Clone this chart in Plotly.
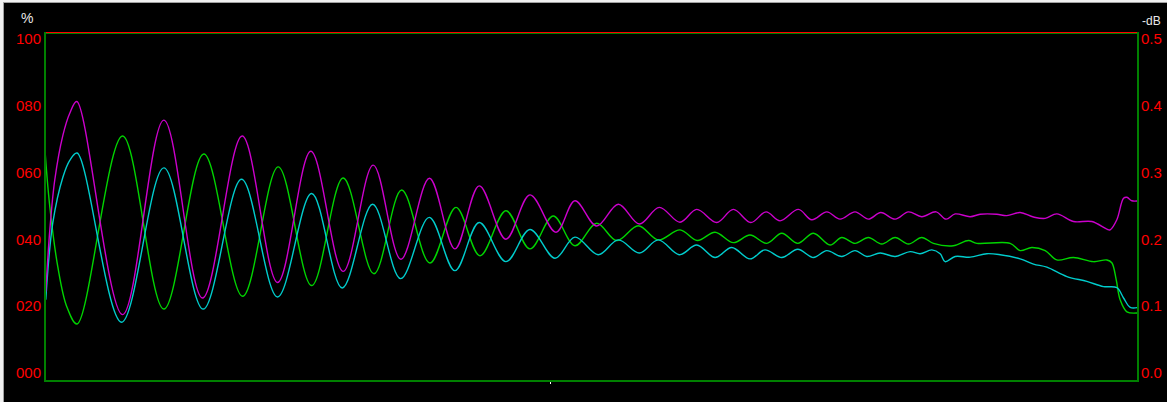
import plotly.graph_objects as go

# Sweep position (0-100 % of span) and the three measured traces (in %)
magenta_x = [0.18, 0.55, 1.0, 1.74, 2.37, 3.01, 7.19, 10.96, 14.49, 18.11, 21.34, 24.38, 27.33, 30.07,
             32.6, 35.21, 37.53, 39.75, 42.19, 44.38, 46.76, 48.49, 50.47, 52.45, 54.37, 56.19, 58.08,
             59.61, 61.43, 62.95, 64.54, 65.94, 67.21, 68.89, 70.11, 71.48, 72.69, 74.06, 75.28, 76.41,
             77.72, 78.93, 80.15, 81.46, 82.37, 83.2, 84.57, 85.48, 87.0, 87.92, 89.13, 90.35, 91.42,
             92.48, 94.0, 95.68, 97.05, 97.35, 97.96, 98.57, 98.88, 99.33, 99.94]
magenta_y = [25.5, 43.4, 57.8, 70.7, 77.1, 80.5, 18.9, 75.1, 23.7, 70.5, 28.2, 66.1, 31.4, 62.1,
             34.9, 58.3, 37.9, 56.1, 40.7, 53.5, 42.7, 51.8, 44.5, 50.8, 45.1, 49.9, 45.6,
             49.3, 45.5, 49.3, 45.5, 48.6, 46.0, 49.3, 46.3, 48.6, 46.5, 48.6, 46.5, 48.4,
             46.5, 48.6, 47.2, 48.6, 46.5, 48.0, 47.2, 47.9, 47.9, 47.5, 48.4, 47.1, 46.7,
             48.0, 45.8, 45.8, 43.6, 43.4, 46.3, 52.5, 52.8, 51.8, 51.8]

green_x = [0.14, 0.55, 1.28, 2.1, 3.04, 7.19, 10.96, 14.61, 18.15, 21.4, 24.45, 27.33, 30.14, 32.67,
           35.25, 37.63, 39.82, 42.19, 44.38, 46.51, 48.49, 50.47, 52.3, 54.27, 56.1, 58.08, 59.66,
           61.28, 62.95, 64.47, 66.0, 67.37, 68.83, 70.26, 71.78, 72.85, 74.06, 75.28, 76.5, 77.72,
           78.93, 80.15, 81.21, 83.04, 84.41, 85.18, 88.22, 89.13, 90.2, 91.42, 92.48, 94.0, 95.83,
           97.05, 97.5, 97.9, 98.26, 98.88, 99.94]
green_y = [65.0, 50.0, 32.7, 21.2, 16.2, 70.5, 20.5, 65.3, 24.2, 61.6, 27.3, 58.4, 30.7, 54.9,
           33.8, 49.9, 35.9, 48.9, 37.9, 47.4, 38.8, 45.3, 40.3, 44.6, 40.5, 43.4, 40.3,
           42.7, 39.7, 41.9, 39.5, 42.4, 39.5, 42.4, 39.0, 41.2, 39.5, 41.2, 39.3, 41.2,
           39.3, 41.2, 39.5, 38.8, 40.3, 39.5, 39.5, 37.4, 38.3, 37.4, 34.7, 35.4, 34.2,
           34.7, 33.9, 29.0, 23.2, 19.7, 19.4]

cyan_x = [0.18, 0.82, 1.74, 2.37, 3.04, 7.1, 10.96, 14.55, 18.05, 21.34, 24.45, 27.24, 30.02, 32.58,
          35.19, 37.53, 39.75, 42.19, 44.38, 46.67, 48.49, 50.62, 52.45, 54.37, 56.1, 58.02, 59.61,
          61.28, 62.8, 64.47, 65.84, 67.37, 68.83, 70.26, 71.48, 72.85, 74.06, 75.13, 76.35, 77.72,
          79.09, 80.0, 81.07, 81.83, 82.28, 83.2, 84.57, 86.09, 87.31, 89.13, 90.35, 91.57, 93.4,
          95.22, 96.74, 97.96, 98.57, 99.18, 99.94]
cyan_y = [23.2, 45.4, 58.6, 63.5, 65.6, 16.7, 61.3, 20.5, 58.0, 24.0, 53.9, 26.6, 50.8, 29.3,
          47.0, 31.6, 45.5, 34.2, 43.5, 35.2, 41.3, 36.2, 40.5, 36.7, 40.5, 36.2, 39.0,
          35.4, 38.3, 35.0, 37.6, 35.4, 37.8, 35.4, 37.4, 35.7, 37.4, 35.7, 36.7, 35.7,
          37.1, 36.5, 37.6, 36.5, 34.2, 35.7, 35.5, 36.5, 36.2, 35.0, 33.5, 32.6, 29.9,
          28.5, 27.0, 26.7, 23.7, 21.0, 21.0]

# Axis tick labels
pct_ticks = [0, 20, 40, 60, 80, 100]
pct_labels = ["000", "020", "040", "060", "080", "100"]
db_ticks = [0.0, 0.1, 0.2, 0.3, 0.4, 0.5]
db_labels = ["0.0", "0.1", "0.2", "0.3", "0.4", "0.5"]
marker_pos = [46.3]

AXIS_GREEN = "#008000"
LABEL_RED = "#ff0000"
FONT = "Liberation Sans"

fig = go.Figure()
for xs, ys, col in [(green_x, green_y, "#00d400"),
                    (cyan_x, cyan_y, "#00cccc"),
                    (magenta_x, magenta_y, "#cc00cc")]:
    fig.add_trace(go.Scatter(x=xs, y=ys, mode="lines",
                             line=dict(color=col, width=1.4, shape="spline", smoothing=1.0),
                             hoverinfo="skip", showlegend=False))

# invisible traces to activate the label axes
fig.add_trace(go.Scatter(x=[50], y=[50], yaxis="y2", mode="markers",
                         marker=dict(opacity=0), showlegend=False, hoverinfo="skip"))
fig.add_trace(go.Scatter(x=[50], y=[0.25], yaxis="y3", mode="markers",
                         marker=dict(opacity=0), showlegend=False, hoverinfo="skip"))

fig.update_layout(
    width=1167, height=402,
    margin=dict(l=46, r=30, t=34, b=22, pad=0, autoexpand=False),
    paper_bgcolor="#000000", plot_bgcolor="#000000",
    showlegend=False,
    xaxis=dict(range=[0.2, 99.8], showgrid=False, zeroline=False, automargin=False,
               showline=True, linecolor=AXIS_GREEN, linewidth=2, mirror=True,
               tickvals=marker_pos, ticks="outside", ticklen=2, tickwidth=1,
               tickcolor="#ffffff", showticklabels=False),
    yaxis=dict(range=[0, 100], showgrid=False, zeroline=False, automargin=False,
               showline=True, linecolor=AXIS_GREEN, linewidth=2, mirror=True,
               showticklabels=False, ticks=""),
    yaxis2=dict(overlaying="y", side="left", range=[-2.096, 101.5], automargin=False,
                tickvals=pct_ticks, ticktext=pct_labels, showgrid=False, zeroline=False,
                showline=False, ticks="", ticklabelstandoff=4,
                tickfont=dict(family=FONT, size=15, color=LABEL_RED)),
    yaxis3=dict(overlaying="y", side="right", range=[-0.01048, 0.5075], automargin=False,
                tickvals=db_ticks, ticktext=db_labels, showgrid=False, zeroline=False,
                showline=False, ticks="", ticklabelstandoff=3,
                tickfont=dict(family=FONT, size=15, color=LABEL_RED)),
    shapes=[
        # red rule along the top edge
        dict(type="line", xref="paper", yref="paper", x0=0, x1=1, y0=1.5, y1=1.5,
             ysizemode="pixel", yanchor=1, line=dict(color=LABEL_RED, width=1), layer="above"),
        # window frame: light and dark bands on left and top
        dict(type="rect", xref="paper", yref="paper", xsizemode="pixel", xanchor=0,
             x0=-46, x1=-43, y0=-1, y1=2, line=dict(width=0), fillcolor="#f0f0f0"),
        dict(type="rect", xref="paper", yref="paper", xsizemode="pixel", xanchor=0,
             x0=-43, x1=-42, y0=-1, y1=2, line=dict(width=0), fillcolor="#a0a0a0"),
        dict(type="rect", xref="paper", yref="paper", ysizemode="pixel", yanchor=1,
             y0=34, y1=32, x0=-1, x1=2, line=dict(width=0), fillcolor="#f0f0f0"),
        dict(type="rect", xref="paper", yref="paper", ysizemode="pixel", yanchor=1,
             y0=32, y1=31, x0=-0.0385, x1=2, line=dict(width=0), fillcolor="#a0a0a0"),
    ],
    annotations=[
        dict(text="%", xref="paper", yref="paper", x=0, y=1, xshift=-19, yshift=16,
             xanchor="center", yanchor="middle",
             showarrow=False, font=dict(family=FONT, size=14, color="#e8e8e8")),
        dict(text="-dB", xref="paper", yref="paper", x=1, y=1, xshift=14, yshift=13,
             xanchor="center", yanchor="middle",
             showarrow=False, font=dict(family=FONT, size=12, color="#e8e8e8")),
    ],
)

fig.write_html("out.html")
